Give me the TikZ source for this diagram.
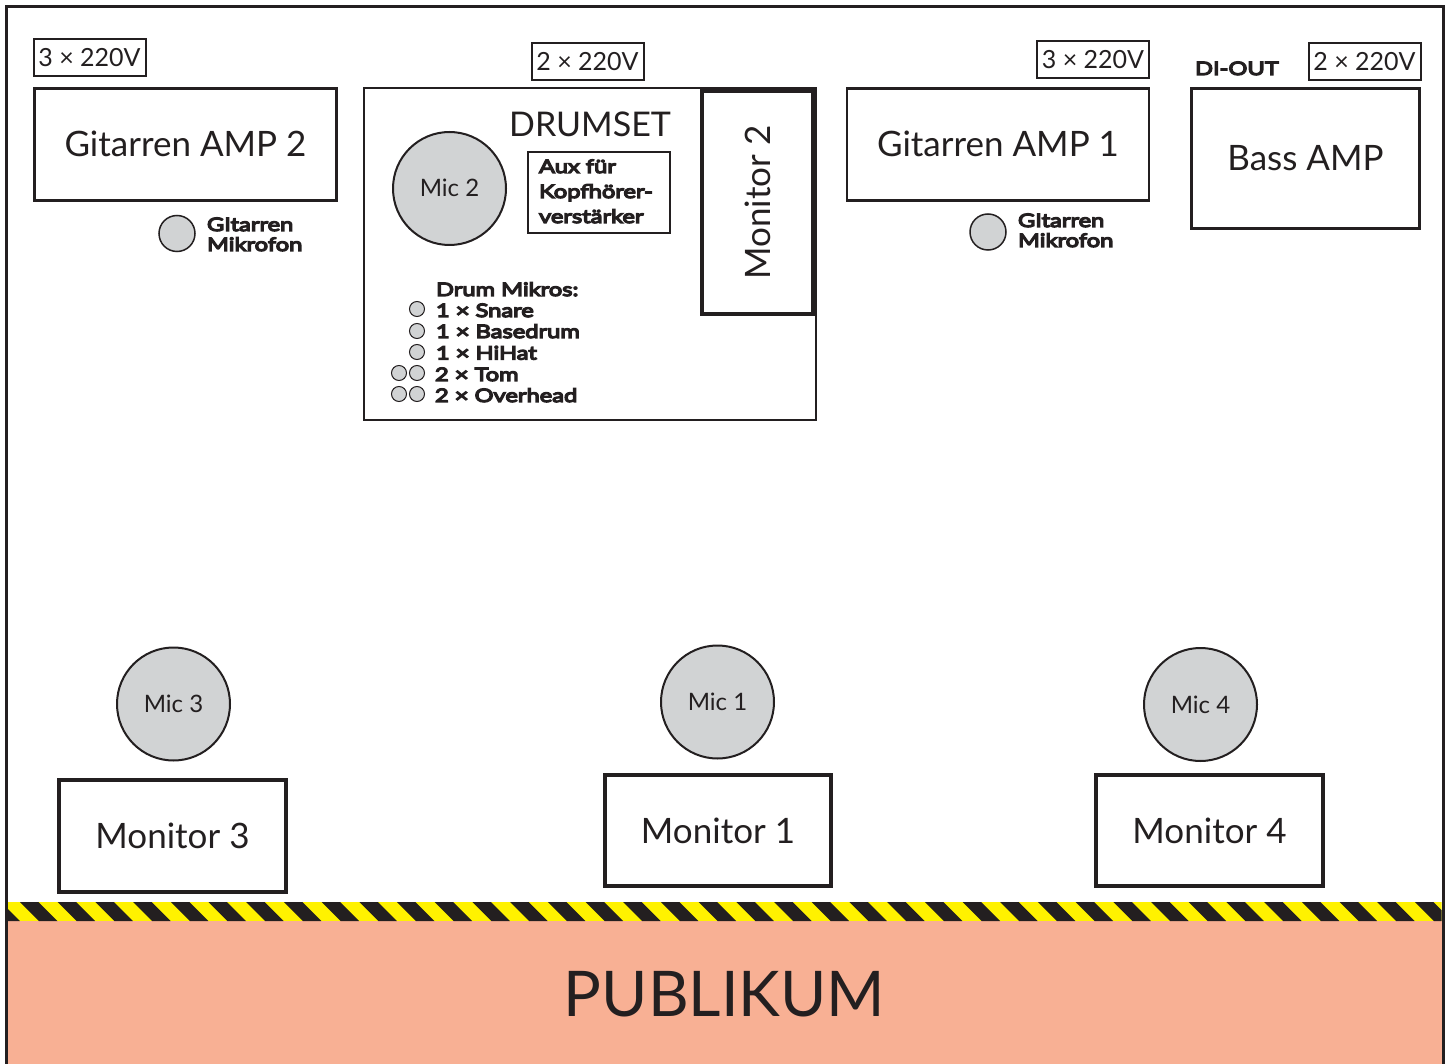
\documentclass[tikz,border=0pt]{standalone}
\usepackage{fontspec}
\setmainfont{Lato}
\newfontfamily\heavyfont{Lato}[FakeBold=7, FakeStretch=1.28]
\definecolor{ink}{HTML}{231F20}
\definecolor{micgrey}{HTML}{D1D3D4}
\definecolor{salmon}{HTML}{F8B094}
\definecolor{hazyellow}{HTML}{FFF200}
\begin{document}
\begin{tikzpicture}[x=1pt,y=-1pt,
  every node/.style={inner sep=0pt, outer sep=0pt, text=ink},
  box/.style={draw=ink, line width=2.5pt},
  monbox/.style={draw=ink, line width=4pt},
  vbox/.style={draw=ink, line width=2pt, font=\fontsize{25}{30}\selectfont, text height=18pt, text depth=0pt, minimum width=112pt, minimum height=37pt},
  biglbl/.style={font=\fontsize{35}{40}\selectfont, text height=25pt, text depth=0pt},
  miclbl/.style={font=\fontsize{24}{30}\selectfont, text height=17pt, text depth=0pt},
  mic/.style={circle, draw=ink, fill=micgrey, line width=2pt, minimum size=113pt, miclbl},
  smallmic/.style={circle, draw=ink, fill=micgrey, line width=1.5pt, minimum size=36pt},
  tinymic/.style={circle, draw=ink, fill=micgrey, line width=1pt, minimum size=15pt},
  boldlbl/.style={font=\heavyfont\fontsize{18.5}{20}\selectfont, anchor=base west},
]
\useasboundingbox (0,0) rectangle (1451,1064);
\fill[white] (0,0) rectangle (1451,1064);
% audience area
\fill[salmon] (6.5,921) rectangle (1443,1064);
\begin{scope}
  \clip (8,902) rectangle (1441.5,921);
  \fill[hazyellow] (8,902) rectangle (1441.5,921);
  \foreach \k in {-1,...,39} {
    \fill[ink] ({20+\k*37.7},902) -- ++(18.5,0) -- ++(19,19) -- ++(-18.5,0) -- cycle;
  }
\end{scope}
\node[font=\fontsize{63}{70}\selectfont, text height=46pt, text depth=0pt] (publikum) at (724.5,993.5) {PUBLIKUM};
% outer frame
\draw[ink, line width=3pt] (6.5,1064) -- (6.5,7) -- (1443,7) -- (1443,1064);

% power boxes
\node[vbox] (pwrA) at (89.5,57.5) {3 × 220V};
\node[vbox] (pwrB) at (587.5,61.5) {2 × 220V};
\node[vbox] (pwrC) at (1093,59.5) {3 × 220V};
\node[vbox] (pwrD) at (1364.5,61.5) {2 × 220V};
\node[boldlbl] (diout) at (1195,75) {DI-OUT};

% amps
\node[box, biglbl, minimum width=302pt, minimum height=112pt] (amp2) at (185.5,144.5) {Gitarren AMP 2};
\node[box, biglbl, minimum width=302pt, minimum height=112pt] (amp1) at (998,144.5) {Gitarren AMP 1};
\node[box, biglbl, minimum width=228pt, minimum height=140pt] (bass) at (1305.5,158.5) {Bass AMP};

% guitar mics
\node[smallmic] (gmicL) at (177,233.5) {};
\node[boldlbl] (gmicLt) at (207,231) {GItarren};
\node[boldlbl] (gmicLt2) at (207,251) {Mikrofon};
\node[smallmic] (gmicR) at (988,232) {};
\node[boldlbl] (gmicRt) at (1018,227) {GItarren};
\node[boldlbl] (gmicRt2) at (1018,247) {Mikrofon};

% drumset
\node[draw=ink, line width=2pt, minimum width=452pt, minimum height=332pt] (drumset) at (590,254) {};
\node[font=\fontsize{34}{40}\selectfont, text height=25pt, text depth=0pt] (drumlbl) at (590,124.5) {DRUMSET};
\node[monbox, biglbl, rotate=90, minimum width=223pt, minimum height=111pt] (mon2) at (757.5,202.5) {Monitor 2};
\node[mic] (mic2) at (449.5,188.5) {Mic 2};
\node[draw=ink, line width=2pt, minimum width=142pt, minimum height=81pt] (aux) at (599,192.5) {};
\node[boldlbl] (aux1) at (539,173) {Aux für};
\node[boldlbl] (aux2) at (539,198) {Kopfhörer-};
\node[boldlbl] (aux3) at (539,223) {verstärker};

\node[boldlbl] (dm0) at (436,296) {Drum Mikros:};
\node[boldlbl] (dm1) at (436,317) {1 × Snare};
\node[boldlbl] (dm2) at (436,338) {1 × Basedrum};
\node[boldlbl] (dm3) at (436,359.5) {1 × HiHat};
\node[boldlbl] (dm4) at (435,381) {2 × Tom};
\node[boldlbl] (dm5) at (435,402) {2 × Overhead};
\node[tinymic] (t1) at (417,309) {};
\node[tinymic] (t2) at (417,331) {};
\node[tinymic] (t3) at (417,352) {};
\node[tinymic] (t4a) at (399,373) {};
\node[tinymic] (t4b) at (417,373) {};
\node[tinymic] (t5a) at (399,394) {};
\node[tinymic] (t5b) at (417,394) {};

% front mics and monitors
\node[mic] (mic3) at (173.5,704) {Mic 3};
\node[mic] (mic1) at (717.5,702) {Mic 1};
\node[mic] (mic4) at (1200.5,704.5) {Mic 4};
\node[monbox, biglbl, minimum width=227pt, minimum height=112pt] (mon3) at (172.5,836) {Monitor 3};
\node[monbox, biglbl, minimum width=226pt, minimum height=111pt] (mon1) at (718,830.5) {Monitor 1};
\node[monbox, biglbl, minimum width=227pt, minimum height=111pt] (mon4) at (1209.5,830.5) {Monitor 4};
\end{tikzpicture}
\end{document}
